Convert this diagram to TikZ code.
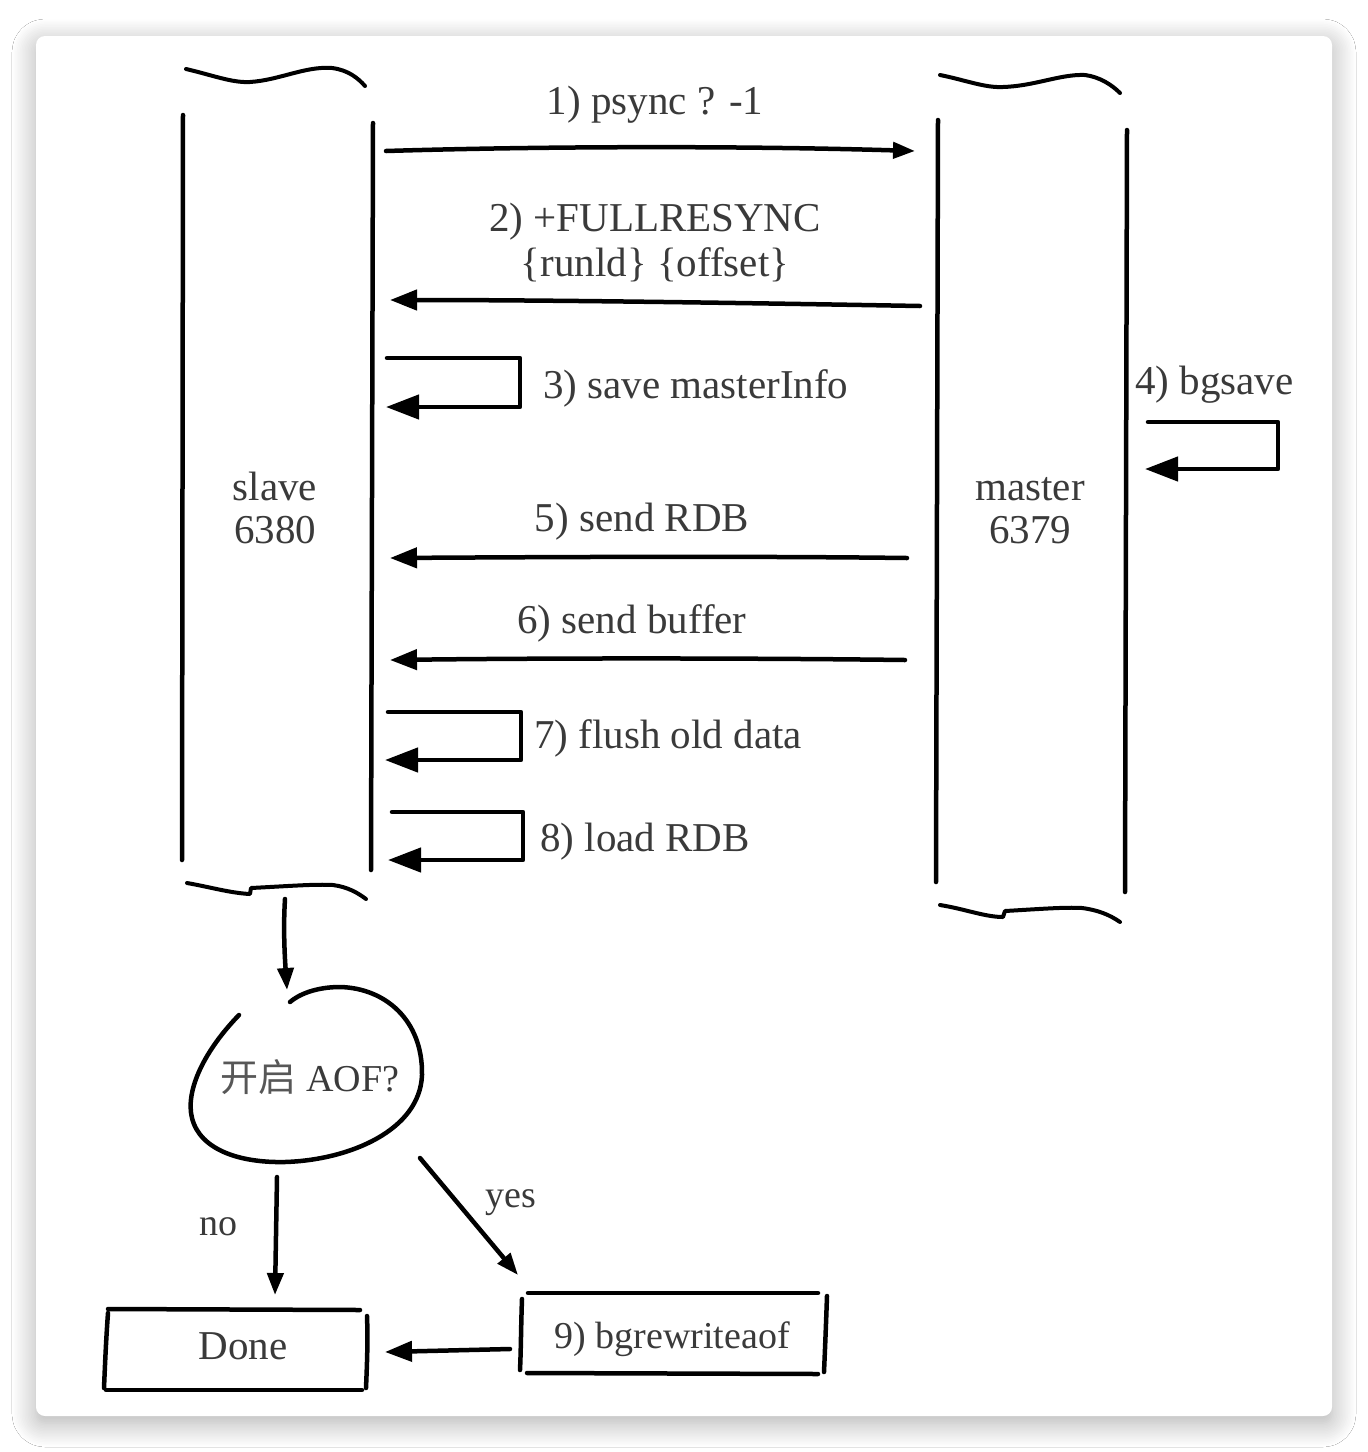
\documentclass[tikz,border=0pt]{standalone}
\usepackage{fontspec}
\setmainfont{Liberation Serif}
\newfontfamily\cjk{Noto Sans CJK SC}
\usetikzlibrary{arrows.meta,shadows.blur}
\definecolor{txt}{HTML}{3A3A3A}
\begin{document}
\begin{tikzpicture}[x=1pt,y=-1pt,line cap=round,line join=round,
  ln/.style={line width=4.5pt,black},
  wave/.style={line width=4pt,black},
  arrS/.style={ln,-{Triangle[length=22pt,width=16pt]}},
  arrM/.style={ln,-{Triangle[length=27pt,width=20pt]}},
  arrL/.style={ln,-{Triangle[length=33pt,width=24pt]}},
  lbl/.style={text=txt,inner sep=0pt,font=\fontsize{41}{44}\selectfont},
  sml/.style={text=txt,inner sep=0pt,font=\fontsize{38}{40}\selectfont}]

\useasboundingbox (0,0) rectangle (1368,1452);
\fill[white] (0,0) rectangle (1368,1452);
\path[fill=white,rounded corners=9pt,
  blur shadow={shadow xshift=0pt,shadow yshift=-7pt,shadow blur radius=24pt,shadow opacity=32,shadow blur steps=16}]
  (36,36) rectangle (1332,1416);

% ---------- slave column ----------
\draw[ln] (183,115) -- (182,860);
\draw[ln] (373,123) -- (371,870);
\draw[wave] (186,69) .. controls (212,75) and (232,83) .. (250,82)
  .. controls (280,80) and (305,66) .. (332,68) .. controls (348,70) and (358,78) .. (365,86);
\draw[wave] (187,883) .. controls (210,887) and (230,893) .. (250,894) -- (251,888)
  .. controls (290,886) and (315,884) .. (333,885) .. controls (348,887) and (358,893) .. (366,899);
\node[lbl,align=center,anchor=base] (slave) at (275,543) {slave\\[-1pt]6380};

% ---------- master column ----------
\draw[ln] (938,120) -- (936,882);
\draw[ln] (1127,130) -- (1125,892);
\draw[wave] (940,75) .. controls (965,80) and (985,88) .. (1003,87)
  .. controls (1035,86) and (1060,74) .. (1085,75) .. controls (1100,77) and (1112,85) .. (1120,93);
\draw[wave] (940,905) .. controls (965,909) and (985,917) .. (1003,917) -- (1005,911)
  .. controls (1040,909) and (1065,907) .. (1082,908) .. controls (1098,910) and (1110,915) .. (1120,922);
\node[lbl,align=center,anchor=base] (master) at (1030,543) {master\\[-1pt]6379};

% ---------- messages ----------
\coordinate (a1s) at (386,151); \coordinate (a1e) at (915,151);
\draw[arrS] (a1s) .. controls (550,146) and (750,146) .. (a1e);
\node[lbl,anchor=base] (t1) at (655,114) {1) psync ? -1};

\coordinate (a2s) at (920,306); \coordinate (a2e) at (390,300);
\draw[arrM] (a2s) .. controls (750,303) and (550,300) .. (a2e);
\node[lbl,align=center,anchor=base] (t2) at (655,276) {2) +FULLRESYNC\\[1pt]\{runld\} \{offset\}};

\coordinate (l3) at (387,358);
\coordinate (l3e) at (386,407);
\draw[arrL] (l3) -- (520,358) -- (520,407) -- (l3e);
\node[lbl,anchor=base west] (t3) at (543,398) {3) save masterInfo};

\coordinate (l4) at (1148,422);
\coordinate (l4e) at (1145,469);
\draw[arrL] (l4) -- (1278,422) -- (1278,469) -- (l4e);
\node[lbl,anchor=base west] (t4) at (1135,394) {4) bgsave};

\coordinate (a5s) at (907,558); \coordinate (a5e) at (390,558);
\draw[arrM] (a5s) .. controls (750,556) and (550,557) .. (a5e);
\node[lbl,anchor=base] (t5) at (642,531) {5) send RDB};

\coordinate (a6s) at (905,660); \coordinate (a6e) at (390,660);
\draw[arrM] (a6s) .. controls (750,658) and (550,658) .. (a6e);
\node[lbl,anchor=base] (t6) at (632,633) {6) send buffer};

\coordinate (l7) at (388,712);
\coordinate (l7e) at (385,760);
\draw[arrL] (l7) -- (521,712) -- (521,760) -- (l7e);
\node[lbl,anchor=base west] (t7) at (534,748) {7) flush old data};

\coordinate (l8) at (392,812);
\coordinate (l8e) at (388,860);
\draw[arrL] (l8) -- (523,812) -- (523,860) -- (l8e);
\node[lbl,anchor=base west] (t8) at (540,851) {8) load RDB};

% ---------- decision ----------
\node[sml,anchor=base] (aof) at (310,1091) {{\cjk\color{txt!85}开启} AOF?};
\draw[ln] (239,1015) .. controls (205,1050) and (185,1090) .. (192,1118)
  .. controls (200,1150) and (240,1163) .. (285,1162)
  .. controls (350,1160) and (420,1130) .. (422,1075)
  .. controls (423,1020) and (385,988) .. (340,987)
  .. controls (315,987) and (298,995) .. (290,1002);

\coordinate (d0) at (285,899); \coordinate (d1) at (287,990);
\draw[arrS] (d0) .. controls (283,930) and (285,960) .. (d1);

\coordinate (n0) at (277,1177); \coordinate (n1) at (275,1295);
\draw[arrS] (n0) -- (n1);
\node[sml,anchor=base] (no) at (218,1235) {no};

\coordinate (y0) at (420,1158); \coordinate (y1) at (518,1275);
\draw[arrS] (y0) -- (y1);
\node[sml,anchor=base] (yes) at (511,1207) {yes};

% ---------- boxes ----------
\node[lbl,anchor=base] (done) at (243,1359) {Done};
\draw[ln] (108,1309) -- (360,1310);
\draw[ln] (106,1390) -- (362,1390);
\draw[ln] (108,1313) .. controls (106,1340) and (105,1365) .. (104,1388);
\draw[ln] (367,1316) .. controls (368,1340) and (367,1365) .. (366,1388);

\node[sml,anchor=base] (bgr) at (672,1348) {9) bgrewriteaof};
\draw[ln] (528,1293) -- (818,1293);
\draw[ln] (527,1373) -- (818,1374);
\draw[ln] (522,1299) .. controls (521,1325) and (521,1350) .. (520,1370);
\draw[ln] (827,1296) .. controls (826,1325) and (825,1350) .. (824,1372);

\coordinate (b0) at (510,1349); \coordinate (b1) at (385,1352);
\draw[arrM] (b0) -- (b1);

\end{tikzpicture}
\end{document}
